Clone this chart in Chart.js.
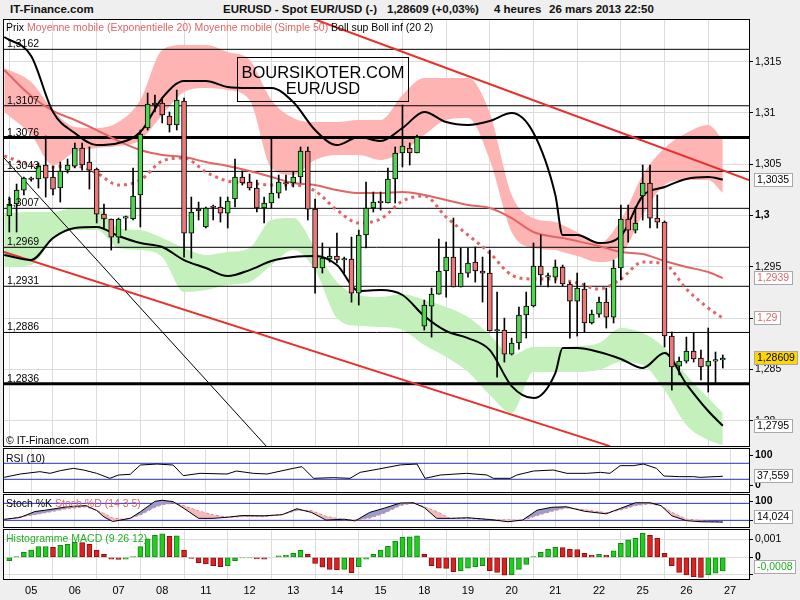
<!DOCTYPE html>
<html>
<head>
<meta charset="utf-8">
<title>EURUSD - Spot EUR/USD</title>
<script src="https://cdn.jsdelivr.net/npm/chart.js@4.4.1/dist/chart.umd.min.js"></script>
<style>
  body { margin: 0; background: #efefef; }
  #page { position: relative; width: 800px; height: 600px; overflow: hidden; font-family: "Liberation Sans", Arial, sans-serif; }
  canvas { position: absolute; left: 0; }
  .t { position: absolute; white-space: nowrap; font-size: 10.5px; line-height: 12px; color: #000; z-index: 5; }
  .hd { position: absolute; top: 3px; font-weight: bold; font-size: 11.5px; line-height: 13px; white-space: nowrap; color: #111; }
  .pink { color: #e06666; }
  #stamp { position: absolute; left: 237px; top: 57px; width: 170px; height: 43px; border: 1px solid #000; z-index: 5; text-align: center; font-size: 16.5px; line-height: 16px; }
</style>
</head>
<body>
<div id="page">
  <div class="hd" style="left:10px">IT-Finance.com</div>
  <div class="hd" style="left:223px">EURUSD - Spot EUR/USD (-)</div>
  <div class="hd" style="left:387px">1,28609 (+0,03%)</div>
  <div class="hd" style="left:494px">4 heures</div>
  <div class="hd" style="left:549px">26 mars 2013 22:50</div>

  <canvas id="cMain" width="800" height="430" style="top:19px"></canvas>
  <canvas id="cRsi" width="800" height="45" style="top:448px"></canvas>
  <canvas id="cStoch" width="800" height="34" style="top:494px"></canvas>
  <canvas id="cMacd" width="800" height="71" style="top:529px"></canvas>

  <div class="t" style="left:6px;top:21px">Prix <span class="pink">Moyenne mobile (Exponentielle 20) Moyenne mobile (Simple 50)</span> Boll sup Boll inf (20 2)</div>
  <div id="stamp"><div style="margin-top:6px">BOURSIKOTER.COM</div><div>EUR/USD</div></div>
  <div class="t" style="left:6px;top:434px">© IT-Finance.com</div>
  <div class="t" style="left:6px;top:452px">RSI (10)</div>
  <div class="t" style="left:6px;top:497px">Stoch %K <span class="pink">Stoch %D (14 3 5)</span></div>
  <div class="t" style="left:6px;top:532px;color:#22b022">Histogramme MACD (9 26 12)</div>
</div>

<script>
const FONT = '"Liberation Sans", Arial, sans-serif';

// 4-hour candles, first one = 04 mars 12:00
const opens = [1.29995, 1.30112, 1.30248, 1.30356, 1.30356, 1.30492, 1.30375, 1.30268, 1.30443, 1.30482,
  1.30658, 1.30521, 1.30453, 1.30014, 1.29966, 1.29790, 1.29975, 1.29966, 1.30200, 1.30853,
  1.31077, 1.31097, 1.30970, 1.30882, 1.31116, 1.29829, 1.30044, 1.29888, 1.30083, 1.30083,
  1.30024, 1.30161, 1.30375, 1.30326, 1.30268, 1.30073, 1.30122, 1.30219, 1.30317, 1.30317,
  1.30375, 1.30629, 1.30063, 1.29488, 1.29576, 1.29605, 1.29566, 1.29576, 1.29244, 1.29810,
  1.30073, 1.30131, 1.30122, 1.30356, 1.30609, 1.30658, 1.30609, 1.28922, 1.29117, 1.29234,
  1.29459, 1.29595, 1.29303, 1.29439, 1.29546, 1.29459, 1.29439, 1.28874, 1.28884, 1.28649,
  1.28757, 1.29030, 1.29118, 1.29507, 1.29400, 1.29400, 1.29498, 1.29332, 1.29166, 1.29283,
  1.28952, 1.29039, 1.29156, 1.29010, 1.29488, 1.29966, 1.29858, 1.30190, 1.30317, 1.29975,
  1.29936, 1.28825, 1.28532, 1.28581, 1.28679, 1.28610, 1.28532, 1.28581, 1.28591];
const highs = [1.30180, 1.30307, 1.30375, 1.30375, 1.30512, 1.30775, 1.30482, 1.30521, 1.30551, 1.30707,
  1.30707, 1.30668, 1.30463, 1.30112, 1.29966, 1.29975, 1.29995, 1.30463, 1.30833, 1.31194,
  1.31175, 1.31145, 1.31009, 1.31223, 1.31145, 1.30180, 1.30131, 1.30083, 1.30102, 1.30180,
  1.30180, 1.30551, 1.30434, 1.30404, 1.30346, 1.30180, 1.30765, 1.30395, 1.30395, 1.30424,
  1.30668, 1.30668, 1.30161, 1.29732, 1.29683, 1.29829, 1.29595, 1.29790, 1.29858, 1.30326,
  1.30229, 1.30229, 1.30463, 1.30668, 1.31077, 1.30707, 1.30785, 1.29176, 1.29293, 1.29771,
  1.29741, 1.29975, 1.29683, 1.29683, 1.29693, 1.29595, 1.29663, 1.29254, 1.29000, 1.28805,
  1.29108, 1.29254, 1.29732, 1.29810, 1.29439, 1.29566, 1.29517, 1.29351, 1.29439, 1.29342,
  1.29078, 1.29205, 1.29293, 1.29566, 1.30102, 1.30102, 1.30083, 1.30492, 1.30492, 1.30200,
  1.29946, 1.28864, 1.28620, 1.28815, 1.28854, 1.28688, 1.28903, 1.28669, 1.28640];
const lows = [1.29839, 1.29839, 1.30200, 1.30336, 1.30268, 1.30180, 1.30200, 1.30131, 1.30414, 1.30463,
  1.30443, 1.30258, 1.29927, 1.29878, 1.29663, 1.29732, 1.29858, 1.29956, 1.29888, 1.30833,
  1.31009, 1.30902, 1.30814, 1.30833, 1.29595, 1.29585, 1.29956, 1.29878, 1.29956, 1.29936,
  1.29878, 1.30083, 1.30297, 1.30248, 1.30034, 1.29927, 1.30073, 1.30170, 1.30248, 1.30278,
  1.30317, 1.29956, 1.29244, 1.29439, 1.29546, 1.29537, 1.29439, 1.29156, 1.29127, 1.29683,
  1.30034, 1.30053, 1.30122, 1.30122, 1.30473, 1.30492, 1.30609, 1.28883, 1.28815, 1.29234,
  1.29205, 1.29303, 1.29303, 1.29400, 1.29351, 1.29156, 1.28874, 1.28425, 1.28571, 1.28640,
  1.28698, 1.28805, 1.29108, 1.29322, 1.29303, 1.29342, 1.29312, 1.28805, 1.28825, 1.28864,
  1.28942, 1.29010, 1.28903, 1.28952, 1.29371, 1.29741, 1.29829, 1.29956, 1.29878, 1.29878,
  1.28718, 1.28298, 1.28445, 1.28562, 1.28572, 1.28396, 1.28279, 1.28367, 1.28513];
const closes = [1.30112, 1.30248, 1.30365, 1.30351, 1.30482, 1.30365, 1.30258, 1.30434, 1.30492, 1.30658,
  1.30492, 1.30443, 1.30014, 1.29966, 1.29790, 1.29966, 1.29976, 1.30190, 1.30794, 1.31087,
  1.31097, 1.30980, 1.30882, 1.31126, 1.29829, 1.30034, 1.30063, 1.30073, 1.30078, 1.30024,
  1.30141, 1.30375, 1.30317, 1.30268, 1.30073, 1.30122, 1.30219, 1.30326, 1.30307, 1.30375,
  1.30629, 1.30063, 1.29488, 1.29585, 1.29605, 1.29566, 1.29566, 1.29244, 1.29810, 1.30073,
  1.30131, 1.30126, 1.30356, 1.30609, 1.30677, 1.30609, 1.30765, 1.29127, 1.29234, 1.29459,
  1.29595, 1.29303, 1.29439, 1.29537, 1.29459, 1.29439, 1.28874, 1.28884, 1.28649, 1.28757,
  1.29030, 1.29118, 1.29507, 1.29420, 1.29410, 1.29498, 1.29332, 1.29166, 1.29293, 1.28952,
  1.29039, 1.29156, 1.29010, 1.29488, 1.29966, 1.29858, 1.29927, 1.30317, 1.29975, 1.29936,
  1.28825, 1.28523, 1.28581, 1.28679, 1.28601, 1.28523, 1.28581, 1.28582, 1.28609];

// days on the time axis (candle index of 00:00)
const dayIdx = [3, 9, 15, 21, 27, 33, 39, 45, 51, 57, 63, 69, 75, 81, 87, 93, 99];
const dayLabels = ['05', '06', '07', '08', '11', '12', '13', '14', '15', '18', '19', '20', '21', '22', '25', '26', '27'];

// indicators read every few candles
const sampleIdx = [-0.7, 3, 6, 9, 12, 15, 18, 21, 24, 27, 30, 33, 36, 39, 42, 45, 48, 51, 54, 57,
  60, 63, 66, 69, 72, 75, 76, 78, 81, 84, 87, 90, 93, 96, 98];
const bollUpper = [1.31740, 1.31555, 1.31009, 1.30804, 1.30687, 1.30707, 1.30814, 1.31145, 1.31311, 1.31311,
  1.31253, 1.31243, 1.31243, 1.31106, 1.30833, 1.30687, 1.30765, 1.30726, 1.30853, 1.31009,
  1.30911, 1.30882, 1.30921, 1.30999, 1.30804, 1.30200, 1.29810, 1.29810, 1.29732, 1.29800,
  1.30190, 1.30278, 1.30356, 1.30375, 1.3035];
const bollLower = [1.29615, 1.29566, 1.29781, 1.29878, 1.29888, 1.29800, 1.29732, 1.29693, 1.29566, 1.29488,
  1.29410, 1.29468, 1.29556, 1.29595, 1.29605, 1.29517, 1.29264, 1.29273, 1.29225, 1.29020,
  1.28874, 1.28805, 1.28688, 1.28337, 1.28220, 1.28464, 1.28708, 1.28708, 1.28669, 1.28601,
  1.28513, 1.28659, 1.28357, 1.28094, 1.2795];
const sma50 = [1.31418, 1.31165, 1.31019, 1.30931, 1.30833, 1.30726, 1.30638, 1.30590, 1.30570, 1.30521,
  1.30482, 1.30434, 1.30375, 1.30317, 1.30297, 1.30248, 1.30219, 1.30219, 1.30229, 1.30200,
  1.30151, 1.30102, 1.30073, 1.29975, 1.29839, 1.29790, 1.29781, 1.29751, 1.29702, 1.29644,
  1.29624, 1.29556, 1.29498, 1.29449, 1.2939];
const ema20 = [1.30580, 1.30492, 1.30473, 1.30482, 1.30414, 1.30297, 1.30346, 1.30531, 1.30561, 1.30424,
  1.30336, 1.30317, 1.30297, 1.30297, 1.30239, 1.30053, 1.29927, 1.29966, 1.30141, 1.30190,
  1.29985, 1.29810, 1.29634, 1.29420, 1.29381, 1.29381, 1.29371, 1.29342, 1.29283, 1.29381,
  1.29546, 1.29527, 1.29283, 1.29098, 1.29];
const pinkTop = [1.31438, 1.31301, 1.31028, 1.30863, 1.30853, 1.30911, 1.31126, 1.31613, 1.31662, 1.31662,
  1.31594, 1.31516, 1.31126, 1.30950, 1.30911, 1.30911, 1.30931, 1.30931, 1.31175, 1.31340,
  1.31340, 1.31340, 1.30999, 1.30200, 1.29975, 1.29936, 1.29907, 1.29839, 1.29732, 1.29956,
  1.30395, 1.30658, 1.30804, 1.30882, 1.30736];
const pinkBottom = [1.31009, 1.30785, 1.30492, 1.30619, 1.30658, 1.30677, 1.30736, 1.30980, 1.31204, 1.31243,
  1.31223, 1.31126, 1.30463, 1.30395, 1.30541, 1.30590, 1.30590, 1.30541, 1.30619, 1.30785,
  1.30931, 1.30950, 1.30541, 1.29839, 1.29683, 1.29663, 1.29644, 1.29605, 1.29546, 1.29615,
  1.30005, 1.30297, 1.30346, 1.30346, 1.30219];
const greenTop = [1.30024, 1.30034, 1.30034, 1.30073, 1.30073, 1.29878, 1.29858, 1.29781, 1.29683, 1.29615,
  1.29644, 1.29683, 1.29956, 1.29975, 1.29683, 1.29351, 1.29225, 1.29205, 1.29234, 1.29176,
  1.29108, 1.29010, 1.28835, 1.28640, 1.28718, 1.28718, 1.28718, 1.28727, 1.28757, 1.28903,
  1.28854, 1.28708, 1.28445, 1.28220, 1.28074];
const greenBottom = [1.29498, 1.29517, 1.29761, 1.29858, 1.29858, 1.29683, 1.29663, 1.29595, 1.29254, 1.29273,
  1.29322, 1.29351, 1.29517, 1.29663, 1.29468, 1.29000, 1.28922, 1.28913, 1.28884, 1.28737,
  1.28620, 1.28474, 1.28250, 1.28074, 1.28474, 1.28474, 1.28474, 1.28474, 1.28493, 1.28571,
  1.28542, 1.28298, 1.27957, 1.27811, 1.27762];

// support / resistance levels and trend lines
const levels = [1.3162, 1.3107, 1.3076, 1.3043, 1.3007, 1.2969, 1.2931, 1.2886, 1.2836];
const thickLevels = [1.3076, 1.2836];
const trendUpX = [42.2, 101.6], trendUpY = [1.31906, 1.30346];
const trendLowX = [-0.73, 82.5], trendLowY = [1.29644, 1.27752];
const thinX = [-0.73, 35.4], thinY = [1.30561, 1.27743];
const priceTicks = [1.28, 1.285, 1.29, 1.295, 1.3, 1.305, 1.31, 1.315];

// RSI (10)
const rsiIdx = [-0.7, 1.5, 4.2, 5.6, 7.0, 8.8, 10.2, 12.0, 13.8, 15.0, 16.6, 18.0, 20.3, 22.5, 23.9, 26.2, 29.9,
  31.2, 33.5, 35.4, 39.0, 40.2, 41.8, 44.5, 46.8, 48.2, 50.5, 53.7, 56.0, 57.1, 59.2, 62.8, 65.6, 66.5,
  68.8, 69.7, 72.0, 74.7, 76.6, 79.3, 81.2, 82.5, 83.9, 85.7, 87.1, 88.9, 89.9, 92.1, 94.0, 94.9, 98];
const rsiVals = [34.9, 43.2, 49.1, 44.9, 51.6, 57.4, 53.2, 44.9, 32.4, 40.7, 42.4, 65.7, 68.2, 65.7, 39.1, 44.9, 43.2,
  50.7, 44.9, 43.2, 57.4, 61.6, 32.4, 34.1, 32.4, 47.4, 54.9, 66.0, 68.2, 32.4, 40.7, 44.9, 40.7, 32.4,
  32.4, 40.7, 50.7, 53.2, 44.9, 44.9, 47.4, 44.9, 64.1, 64.1, 68.2, 57.4, 38.2, 36.6, 36.6, 34.9, 37.559];
const rsiLevels = [30, 70];

// Stochastique (14 3 5)
const stochIdx = [-0.7, 1.5, 3.5, 5, 8, 10.5, 12, 13, 14.2, 15.5, 16.6, 18, 20, 21, 22.5, 24, 26, 28, 30, 32,
  35, 37.5, 39.5, 41.5, 43.5, 46, 47.5, 49.5, 51.5, 53.7, 55.5, 57, 58.7, 60.5, 63, 66, 68.5, 70.5, 72.5,
  74.5, 76.5, 79, 82, 84, 86, 88, 89.5, 91, 93, 95, 98];
const stochK = [23.6, 30, 51, 56, 68, 72, 55, 32, 16, 22, 27, 50, 87, 91, 86, 62, 27, 27, 31, 37,
  36, 40, 61, 48, 21, 24, 18, 48, 63, 81, 82, 65, 27, 27, 29, 23, 15, 21, 56,
  66, 68, 52, 43, 63, 82, 82, 72, 36, 19, 15, 14.024];
const stochD = [21, 33, 40, 47, 62, 68, 55, 44, 28, 24, 27, 39, 66, 75, 81, 71, 53, 39, 31, 33,
  33, 41, 55, 54, 34, 22, 21, 28, 45, 72, 82, 67, 51, 27, 27, 22, 21, 20, 37,
  52, 64, 57, 47, 57, 72, 79, 72, 48, 24, 19, 14];
const stochLevels = [20, 80];

// Histogramme MACD (9 26 12), one bar per candle
const macdHist = [-0.00019, 0.00004, 0.00028, 0.00041, 0.00060, 0.00061, 0.00056, 0.00068, 0.00073, 0.00085,
  0.00083, 0.00073, 0.00041, 0.00017, -0.00011, -0.00012, -0.00010, 0.00004, 0.00060, 0.00104,
  0.00124, 0.00132, 0.00118, 0.00121, 0.00041, -0.00006, -0.00030, -0.00038, -0.00047, -0.00053,
  -0.00047, -0.00019, -0.00004, -0.00003, -0.00009, -0.00011, 0, 0.00008, 0.00011, 0.00023,
  0.00040, 0.00017, -0.00034, -0.00056, -0.00068, -0.00072, -0.00068, -0.00087, -0.00053, -0.00011,
  0.00017, 0.00041, 0.00062, 0.00092, 0.00113, 0.00115, 0.00121, 0.00017, -0.00047, -0.00062,
  -0.00063, -0.00081, -0.00075, -0.00062, -0.00053, -0.00047, -0.00075, -0.00085, -0.00101, -0.00100,
  -0.00068, -0.00040, 0.00004, 0.00028, 0.00045, 0.00056, 0.00055, 0.00045, 0.00044, 0.00023,
  0.00011, 0.00017, 0.00011, 0.00036, 0.00079, 0.00098, 0.00107, 0.00136, 0.00124, 0.00107,
  0.00023, -0.00047, -0.00085, -0.00100, -0.00109, -0.00113, -0.00100, -0.00090, -0.00077];
const macdTicks = [-0.001, 0, 0.001];
const macdTickLabels = ['', '0', '0,001'];

// colours
const GRID = '#dcdcdc';
const PINK = '#e06666';
const UP = '#52d452', DOWN = '#ea7a7a';
const BLUE = '#2b2bd0';

const fmt = v => String(v).replace('.', ',');
const pts = (xs, ys) => xs.map((x, k) => ({ x: x, y: ys[k] }));
const hline = (v, x0, x1) => [{ x: x0, y: v }, { x: x1, y: v }];
const xMin = -0.73, xMax = 101.6;

function xAxis(showLabels) {
  return {
    type: 'linear', min: xMin, max: xMax, offset: false, bounds: 'data',
    afterBuildTicks: s => { s.ticks = dayIdx.map(v => ({ value: v })); },
    afterFit: s => { s.height = showLabels ? 21 : 0; s.paddingLeft = 0; s.paddingRight = 0; },
    grid: { color: GRID, drawTicks: false },
    border: { display: false },
    ticks: {
      display: showLabels, autoSkip: false, maxRotation: 0, padding: 5, color: '#000',
      font: { family: FONT, size: 11 },
      callback: (v, i) => dayLabels[i]
    }
  };
}

function quietY(min, max) {
  return {
    type: 'linear', position: 'right', min: min, max: max, bounds: 'data',
    afterFit: s => { s.width = 51; s.paddingTop = 0; s.paddingBottom = 0; },
    grid: { display: false },
    border: { display: false },
    ticks: { display: false }
  };
}

function drawBox(ctx, chart, value, text, color, bg, lo, hi) {
  const a = chart.chartArea;
  const y = chart.scales.y.getPixelForValue(value);
  const yc = Math.round(Math.max(a.top + lo, Math.min(a.bottom - hi, y)));
  ctx.save();
  ctx.font = '10.5px ' + FONT;
  const w = Math.ceil(ctx.measureText(text).width) + 6;
  ctx.fillStyle = bg;
  ctx.fillRect(754, yc - 7, w, 14);
  ctx.strokeStyle = '#a8a8a8';
  ctx.lineWidth = 1;
  ctx.strokeRect(754.5, yc - 6.5, w - 1, 13);
  ctx.fillStyle = color;
  ctx.textBaseline = 'middle';
  ctx.fillText(text, 757, yc + 0.5);
  ctx.restore();
}

function panelPlugin(cfg) {
  return {
    id: 'panel_' + cfg.name,
    beforeDraw(chart) {
      const a = chart.chartArea, ctx = chart.ctx;
      ctx.save();
      ctx.fillStyle = '#fff';
      ctx.fillRect(a.left, a.top, a.right - a.left, a.bottom - a.top);
      ctx.restore();
    },
    afterDatasetsDraw(chart) {
      if (cfg.afterData) cfg.afterData(chart);
    },
    afterDraw(chart) {
      const a = chart.chartArea, ctx = chart.ctx;
      ctx.save();
      ctx.strokeStyle = '#000';
      ctx.lineWidth = 1;
      ctx.strokeRect(a.left - 0.5, a.top - 0.5, a.right - a.left + 1, a.bottom - a.top + 1);
      (cfg.sideLabels || []).forEach(l => {
        const y = Math.round(Math.max(a.top + 6, Math.min(a.bottom - 7, chart.scales.y.getPixelForValue(l.v))));
        ctx.beginPath();
        ctx.moveTo(a.right, y + 0.5);
        ctx.lineTo(a.right + 4, y + 0.5);
        ctx.stroke();
        ctx.fillStyle = '#000';
        ctx.font = (l.bold ? 'bold ' : '') + '10.5px ' + FONT;
        ctx.textBaseline = 'middle';
        ctx.fillText(l.text, a.right + 6, y + 0.5);
      });
      ctx.restore();
      (cfg.boxes || []).forEach(b => drawBox(ctx, chart, b.v, b.text, b.color, b.bg || '#fff', b.lo || 7, b.hi || 7));
    }
  };
}

const baseOptions = {
  responsive: false,
  animation: false,
  devicePixelRatio: 1,
  events: [],
  plugins: { legend: { display: false }, tooltip: { enabled: false } },
  elements: { point: { radius: 0 }, line: { cubicInterpolationMode: 'monotone' } }
};

// ---------- main price chart ----------
const candleIdx = opens.map((_, k) => k);
const mainDatasets = [
  {
    type: 'bar', order: 0, grouped: false, barThickness: 5, maxBarThickness: 5, minBarLength: 1.5,
    data: candleIdx.map(k => ({ x: k, y: [opens[k], closes[k]] })),
    backgroundColor: candleIdx.map(k => closes[k] >= opens[k] ? UP : DOWN),
    borderColor: '#000', borderWidth: 1, borderSkipped: false
  },
  {
    type: 'bar', order: 1, grouped: false, barThickness: 1, maxBarThickness: 1,
    data: candleIdx.map(k => ({ x: k, y: [lows[k], highs[k]] })),
    backgroundColor: '#000', borderWidth: 0
  },
  { type: 'line', order: 2, data: pts(sampleIdx, bollUpper), borderColor: '#000', borderWidth: 2 },
  { type: 'line', order: 2, data: pts(sampleIdx, bollLower), borderColor: '#000', borderWidth: 2 },
  { type: 'line', order: 3, data: pts(sampleIdx, sma50), borderColor: PINK, borderWidth: 2 },
  { type: 'line', order: 3, data: pts(sampleIdx, ema20), borderColor: PINK, borderWidth: 3, borderDash: [3, 4] },
  { type: 'line', order: 4, data: pts(trendUpX, trendUpY), borderColor: '#e8312e', borderWidth: 2 },
  { type: 'line', order: 4, data: pts(trendLowX, trendLowY), borderColor: '#e8312e', borderWidth: 2 },
  { type: 'line', order: 4, data: pts(thinX, thinY), borderColor: '#000', borderWidth: 1 }
];
levels.forEach(v => mainDatasets.push({
  type: 'line', order: 5, data: hline(v, -2, 104), borderColor: '#000',
  borderWidth: thickLevels.includes(v) ? 3 : 1
}));
mainDatasets.push(
  { type: 'line', order: 6, data: pts(sampleIdx, pinkTop), borderColor: 'transparent', borderWidth: 0, fill: '+1', backgroundColor: '#ffb4b4' },
  { type: 'line', order: 6, data: pts(sampleIdx, pinkBottom), borderColor: 'transparent', borderWidth: 0 },
  { type: 'line', order: 6, data: pts(sampleIdx, greenTop), borderColor: 'transparent', borderWidth: 0, fill: '+1', backgroundColor: '#c3f0bb' },
  { type: 'line', order: 6, data: pts(sampleIdx, greenBottom), borderColor: 'transparent', borderWidth: 0 }
);

new Chart(document.getElementById('cMain'), {
  type: 'line',
  data: { datasets: mainDatasets },
  options: Object.assign({}, baseOptions, {
    layout: { padding: { left: 4, top: 1, right: 0, bottom: 3 } },
    scales: {
      x: xAxis(false),
      y: {
        type: 'linear', position: 'right', min: 1.27753, max: 1.31906, bounds: 'data',
        afterBuildTicks: s => { s.ticks = priceTicks.map(v => ({ value: v })); },
        afterFit: s => { s.width = 51; s.paddingTop = 0; s.paddingBottom = 0; },
        grid: { color: GRID, tickLength: 4, tickColor: '#000' },
        border: { display: false },
        ticks: {
          padding: 2, color: '#000',
          font: c => ({ family: FONT, size: 10.5, weight: c.tick && c.tick.value === 1.3 ? 'bold' : 'normal' }),
          callback: v => fmt(v)
        }
      }
    }
  }),
  plugins: [panelPlugin({
    name: 'main',
    afterData(chart) {
      const ctx = chart.ctx, a = chart.chartArea;
      ctx.save();
      ctx.font = '10.5px ' + FONT;
      ctx.fillStyle = '#000';
      ctx.textBaseline = 'alphabetic';
      levels.forEach(v => {
        const y = chart.scales.y.getPixelForValue(v);
        ctx.fillText(fmt(v), a.left + 3, y - 2);
      });
      ctx.restore();
    },
    boxes: [
      { v: bollUpper[bollUpper.length - 1], text: fmt(bollUpper[bollUpper.length - 1]), color: '#000' },
      { v: sma50[sma50.length - 1], text: fmt(sma50[sma50.length - 1]), color: PINK },
      { v: ema20[ema20.length - 1], text: fmt(ema20[ema20.length - 1]), color: PINK },
      { v: closes[closes.length - 1], text: fmt(closes[closes.length - 1]), color: '#000', bg: '#ffd700' },
      { v: bollLower[bollLower.length - 1], text: fmt(bollLower[bollLower.length - 1]), color: '#000' }
    ]
  })]
});

// ---------- RSI ----------
const rsiDatasets = [{ type: 'line', data: pts(rsiIdx, rsiVals), borderColor: '#000', borderWidth: 1, cubicInterpolationMode: 'default', tension: 0 }];
rsiLevels.forEach(v => rsiDatasets.push({ type: 'line', data: hline(v, -2, 104), borderColor: BLUE, borderWidth: 1 }));
new Chart(document.getElementById('cRsi'), {
  type: 'line',
  data: { datasets: rsiDatasets },
  options: Object.assign({}, baseOptions, {
    layout: { padding: { left: 4, top: 1, right: 0, bottom: 1 } },
    scales: { x: xAxis(false), y: quietY(-1.75, 105.75) }
  }),
  plugins: [panelPlugin({
    name: 'rsi',
    sideLabels: [{ v: 100, text: '100', bold: true }, { v: 0, text: '0', bold: true }],
    boxes: [{ v: rsiVals[rsiVals.length - 1], text: fmt(rsiVals[rsiVals.length - 1]), color: '#000' }]
  })]
});

// ---------- Stochastique ----------
const stochDatasets = [
  { type: 'line', order: 0, data: pts(stochIdx, stochK), borderColor: '#000', borderWidth: 1, tension: 0, cubicInterpolationMode: 'default',
    fill: { target: '+1', above: '#9c9ccc', below: '#f4b9b9' } },
  { type: 'line', order: 1, data: pts(stochIdx, stochD), borderColor: PINK, borderWidth: 1, borderDash: [3, 2], tension: 0, cubicInterpolationMode: 'default' }
];
stochLevels.forEach(v => stochDatasets.push({ type: 'line', order: 2, data: hline(v, -2, 104), borderColor: BLUE, borderWidth: 1 }));
new Chart(document.getElementById('cStoch'), {
  type: 'line',
  data: { datasets: stochDatasets },
  options: Object.assign({}, baseOptions, {
    layout: { padding: { left: 4, top: 1, right: 0, bottom: 1 } },
    scales: { x: xAxis(false), y: quietY(-3.5, 109.5) }
  }),
  plugins: [panelPlugin({
    name: 'stoch',
    sideLabels: [{ v: 100, text: '100', bold: true }, { v: 0, text: '0', bold: true }],
    boxes: [{ v: stochK[stochK.length - 1], text: fmt(stochK[stochK.length - 1]), color: '#000', hi: 10 }]
  })]
});

// ---------- MACD ----------
const macdUp = macdHist.map((v, k) => k === 0 || v >= macdHist[k - 1]);
const macdLast = macdHist[macdHist.length - 1];
new Chart(document.getElementById('cMacd'), {
  type: 'line',
  data: {
    datasets: [{
      type: 'bar', grouped: false, barThickness: 5, maxBarThickness: 5,
      data: macdHist.map((v, k) => ({ x: k, y: v })),
      backgroundColor: macdUp.map(u => u ? '#22cc22' : '#dd2222'),
      borderColor: macdUp.map(u => u ? '#118811' : '#881111'),
      borderWidth: 1, borderSkipped: false
    }]
  },
  options: Object.assign({}, baseOptions, {
    layout: { padding: { left: 4, top: 1, right: 0, bottom: 0 } },
    scales: {
      x: xAxis(true),
      y: {
        type: 'linear', position: 'right', min: -0.001226, max: 0.001542, bounds: 'data',
        afterBuildTicks: s => { s.ticks = macdTicks.map(v => ({ value: v })); },
        afterFit: s => { s.width = 51; s.paddingTop = 0; s.paddingBottom = 0; },
        grid: { color: GRID, tickLength: 4, tickColor: '#000' },
        border: { display: false },
        ticks: {
          padding: 2, color: '#000',
          font: c => ({ family: FONT, size: 10.5, weight: c.tick && c.tick.value === 0 ? 'bold' : 'normal' }),
          callback: (v, i) => macdTickLabels[i]
        }
      }
    }
  }),
  plugins: [panelPlugin({
    name: 'macd',
    boxes: [{ v: macdLast, text: fmt(macdLast.toFixed(4)), color: '#22aa22', hi: 12 }]
  })]
});
</script>
</body>
</html>
